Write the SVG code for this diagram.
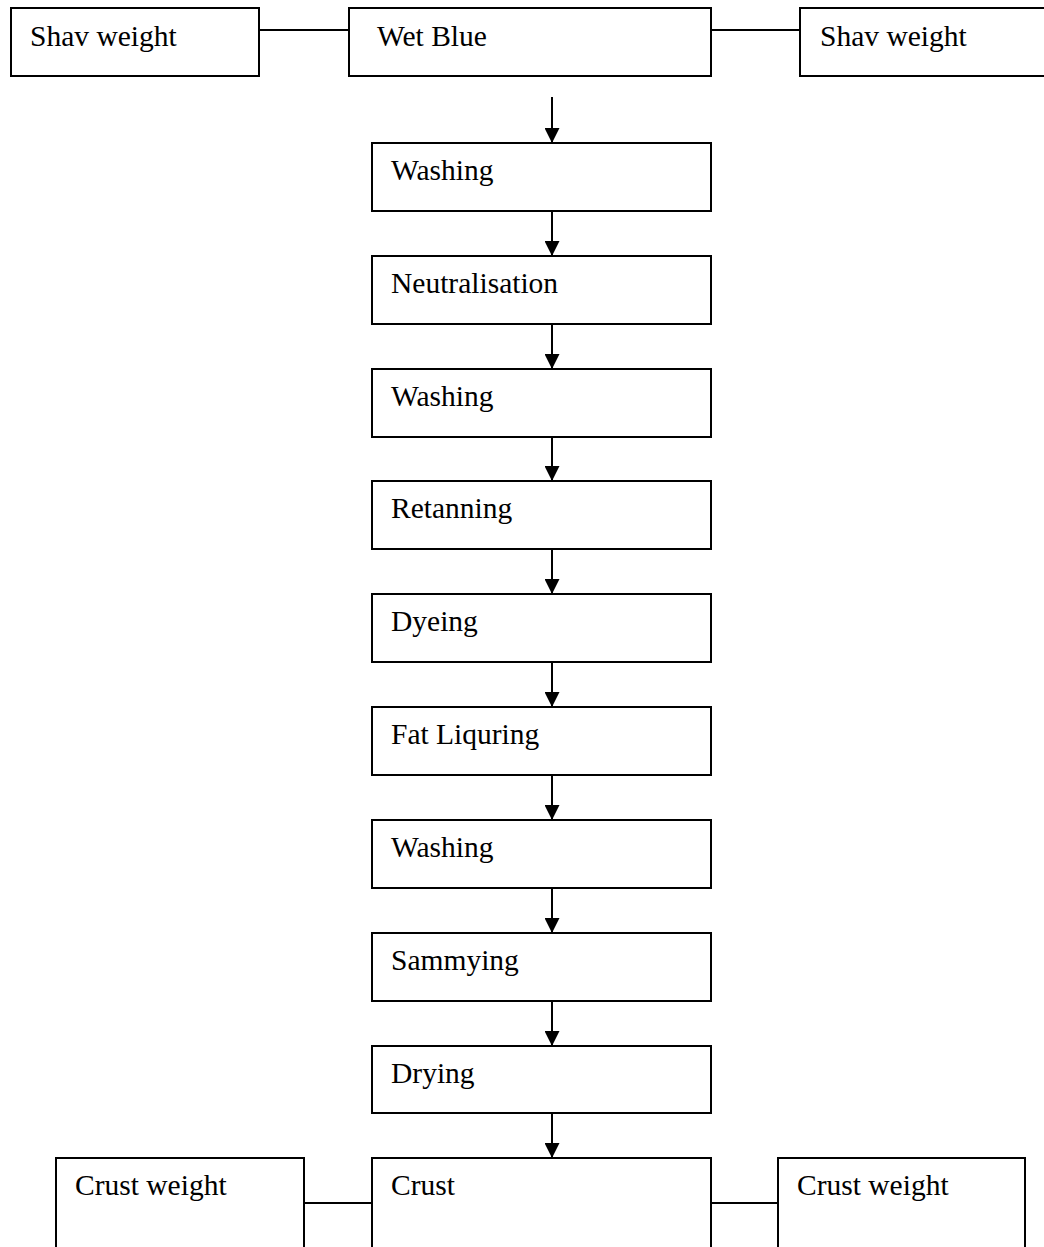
<svg xmlns="http://www.w3.org/2000/svg" width="1044" height="1247" viewBox="0 0 1044 1247">
  <style>
    .box { fill: #ffffff; stroke: #000000; stroke-width: 2; }
    .lbl { font-family: "Liberation Serif", "Times New Roman", serif; font-size: 29.5px; fill: #000000; }
    .link { stroke: #000000; stroke-width: 2; fill: none; }
    .flow { stroke: #000000; stroke-width: 2; fill: none; marker-end: url(#head); }
  </style>
  <defs>
    <marker id="head" markerUnits="userSpaceOnUse" markerWidth="15" markerHeight="15" refX="15" refY="7.5" orient="auto">
      <path d="M0,0 L15,7.5 L0,15 z" fill="#000000"/>
    </marker>
  </defs>
  <rect width="1044" height="1247" fill="#ffffff"/>

  <!-- connectors -->
  <g id="connectors">
    <line class="link" x1="259" y1="30" x2="349" y2="30"/>
    <line class="link" x1="711" y1="30" x2="800" y2="30"/>
    <line class="flow" x1="552" y1="97" x2="552" y2="143"/>
    <line class="flow" x1="552" y1="211" x2="552" y2="256"/>
    <line class="flow" x1="552" y1="324" x2="552" y2="369"/>
    <line class="flow" x1="552" y1="437" x2="552" y2="481"/>
    <line class="flow" x1="552" y1="549" x2="552" y2="594"/>
    <line class="flow" x1="552" y1="662" x2="552" y2="707"/>
    <line class="flow" x1="552" y1="775" x2="552" y2="820"/>
    <line class="flow" x1="552" y1="888" x2="552" y2="933"/>
    <line class="flow" x1="552" y1="1001" x2="552" y2="1046"/>
    <line class="flow" x1="552" y1="1113" x2="552" y2="1158"/>
    <line class="link" x1="304" y1="1203" x2="372" y2="1203"/>
    <line class="link" x1="711" y1="1203" x2="778" y2="1203"/>
  </g>

  <!-- top row -->
  <g id="shav-left">
    <rect class="box" x="11" y="8" width="248" height="68"/>
    <text class="lbl" x="30" y="46">Shav weight</text>
  </g>
  <g id="wet-blue">
    <rect class="box" x="349" y="8" width="362" height="68"/>
    <text class="lbl" x="377" y="46">Wet Blue</text>
  </g>
  <g id="shav-right">
    <rect class="box" x="800" y="8" width="260" height="68"/>
    <text class="lbl" x="820" y="46">Shav weight</text>
  </g>

  <!-- process steps -->
  <g id="washing-1">
    <rect class="box" x="372" y="143" width="339" height="68"/>
    <text class="lbl" x="391" y="180">Washing</text>
  </g>
  <g id="neutralisation">
    <rect class="box" x="372" y="256" width="339" height="68"/>
    <text class="lbl" x="391" y="293">Neutralisation</text>
  </g>
  <g id="washing-2">
    <rect class="box" x="372" y="369" width="339" height="68"/>
    <text class="lbl" x="391" y="406">Washing</text>
  </g>
  <g id="retanning">
    <rect class="box" x="372" y="481" width="339" height="68"/>
    <text class="lbl" x="391" y="518">Retanning</text>
  </g>
  <g id="dyeing">
    <rect class="box" x="372" y="594" width="339" height="68"/>
    <text class="lbl" x="391" y="631">Dyeing</text>
  </g>
  <g id="fat-liquring">
    <rect class="box" x="372" y="707" width="339" height="68"/>
    <text class="lbl" x="391" y="744">Fat Liquring</text>
  </g>
  <g id="washing-3">
    <rect class="box" x="372" y="820" width="339" height="68"/>
    <text class="lbl" x="391" y="857">Washing</text>
  </g>
  <g id="sammying">
    <rect class="box" x="372" y="933" width="339" height="68"/>
    <text class="lbl" x="391" y="970">Sammying</text>
  </g>
  <g id="drying">
    <rect class="box" x="372" y="1046" width="339" height="67"/>
    <text class="lbl" x="391" y="1083">Drying</text>
  </g>

  <!-- bottom row -->
  <g id="crust-weight-left">
    <rect class="box" x="56" y="1158" width="248" height="110"/>
    <text class="lbl" x="75" y="1195">Crust weight</text>
  </g>
  <g id="crust">
    <rect class="box" x="372" y="1158" width="339" height="110"/>
    <text class="lbl" x="391" y="1195">Crust</text>
  </g>
  <g id="crust-weight-right">
    <rect class="box" x="778" y="1158" width="247" height="110"/>
    <text class="lbl" x="797" y="1195">Crust weight</text>
  </g>
</svg>
